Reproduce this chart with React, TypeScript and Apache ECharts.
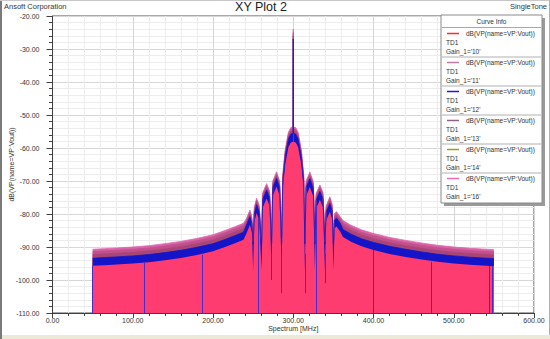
import React, { useEffect, useRef } from 'react';
import * as echarts from 'echarts';

// Spectrum frequency grid (MHz)
const freqMHz = [
  50, 65, 80, 100, 120, 140, 160, 180, 200, 215, 228, 238,
  241.5, 246, 248.5, 250,
  251.5, 254.3, 257.5, 260.5,
  262, 266.8, 270.5, 273,
  274.5, 279.2, 283, 285.5,
  287, 290, 294, 297, 299.7, 300, 300.3, 303, 306, 310, 313, 314.5,
  316, 320.7, 325, 327,
  328.5, 333.2, 337, 339.5,
  341, 345.6, 348.5, 350,
  351.5, 354, 358.5,
  362, 372, 385, 400, 420, 440, 460, 480, 500, 520, 535, 550,
];

const gain16Db = [
  -90.7, -90.5, -90.3, -90.0, -89.6, -89.0, -88.3, -87.4, -86.3, -85.0, -83.8, -82.8,
  -81.5, -78.8, -81.0, -88.0,
  -78.0, -75.2, -77.2, -88.0,
  -73.5, -70.8, -73.0, -88.0,
  -70.0, -67.2, -70.0, -88.0,
  -68.0, -60.5, -55.2, -53.8, -53.6, -24.0, -53.6, -53.8, -55.2, -60.5, -68.0, -88.0,
  -70.0, -67.3, -70.2, -88.0,
  -73.8, -71.2, -73.4, -88.0,
  -77.5, -74.8, -77.0, -88.0,
  -79.8, -79.3, -80.8,
  -82.0, -83.4, -84.8, -85.9, -87.1, -88.0, -88.8, -89.5, -90.0, -90.4, -90.6, -90.8,
];

const gain13Db = [
  -91.4, -91.2, -91.0, -90.7, -90.3, -89.7, -89.0, -88.1, -87.0, -85.7, -84.5, -83.5,
  -82.1, -79.4, -81.6, -88.3,
  -78.6, -75.8, -77.8, -88.3,
  -74.1, -71.4, -73.6, -88.3,
  -70.6, -67.8, -70.6, -88.3,
  -68.6, -61.1, -55.8, -54.4, -54.2, -25.0, -54.2, -54.4, -55.8, -61.1, -68.6, -88.3,
  -70.6, -67.9, -70.8, -88.3,
  -74.4, -71.8, -74.0, -88.3,
  -78.1, -75.4, -77.6, -88.3,
  -80.4, -79.9, -81.4,
  -82.7, -84.1, -85.5, -86.6, -87.8, -88.7, -89.5, -90.2, -90.7, -91.1, -91.3, -91.5,
];

const gain11Db = [
  -92.3, -92.1, -91.9, -91.6, -91.2, -90.6, -89.9, -89.0, -87.9, -86.6, -85.4, -84.4,
  -82.8, -80.1, -82.3, -88.6,
  -79.3, -76.5, -78.5, -88.6,
  -74.8, -72.1, -74.3, -88.6,
  -71.3, -68.5, -71.3, -88.6,
  -69.3, -61.8, -56.5, -55.1, -54.9, -26.0, -54.9, -55.1, -56.5, -61.8, -69.3, -88.6,
  -71.3, -68.6, -71.5, -88.6,
  -75.1, -72.5, -74.7, -88.6,
  -78.8, -76.1, -78.3, -88.6,
  -81.1, -80.6, -82.1,
  -83.6, -85.0, -86.4, -87.5, -88.7, -89.6, -90.4, -91.1, -91.6, -92.0, -92.2, -92.4,
];

const gain14Db = [
  -94.7, -94.5, -94.3, -94.0, -93.6, -93.0, -92.3, -91.4, -90.3, -89.0, -87.8, -86.8,
  -85.0, -82.3, -84.5, -93.0,
  -81.5, -78.7, -80.7, -93.0,
  -77.0, -74.3, -76.5, -93.0,
  -73.5, -70.7, -73.5, -93.0,
  -71.5, -64.0, -58.7, -57.3, -57.1, -28.0, -57.1, -57.3, -58.7, -64.0, -71.5, -93.0,
  -73.5, -70.8, -73.7, -93.0,
  -77.3, -74.7, -76.9, -93.0,
  -81.0, -78.3, -80.5, -93.0,
  -83.3, -82.8, -84.3,
  -86.0, -87.4, -88.8, -89.9, -91.1, -92.0, -92.8, -93.5, -94.0, -94.4, -94.6, -94.8,
];

const gain12Db = [
  -93.4, -93.2, -93.0, -92.7, -92.3, -91.7, -91.0, -90.1, -89.0, -87.7, -86.5, -85.5,
  -83.5, -80.8, -83.0, -89.0,
  -80.0, -77.2, -79.2, -89.0,
  -75.5, -72.8, -75.0, -89.0,
  -72.0, -69.2, -72.0, -89.0,
  -70.0, -62.5, -57.2, -55.8, -55.6, -27.0, -55.6, -55.8, -57.2, -62.5, -70.0, -89.0,
  -72.0, -69.3, -72.2, -89.0,
  -75.8, -73.2, -75.4, -89.0,
  -79.5, -76.8, -79.0, -89.0,
  -81.8, -81.3, -82.8,
  -84.7, -86.1, -87.5, -88.6, -89.8, -90.7, -91.5, -92.2, -92.7, -93.1, -93.3, -93.5,
];

const gain10Db = [
  -95.7, -95.5, -95.3, -95.0, -94.6, -94.0, -93.3, -92.4, -91.3, -90.0, -88.8, -87.8,
  -86.0, -83.3, -85.5, -97.0,
  -82.5, -79.7, -81.7, -97.0,
  -78.0, -75.3, -77.5, -97.0,
  -74.5, -71.7, -74.5, -97.0,
  -72.5, -65.0, -59.7, -58.3, -58.1, -29.0, -58.1, -58.3, -59.7, -65.0, -72.5, -97.0,
  -74.5, -71.8, -74.7, -97.0,
  -78.3, -75.7, -77.9, -97.0,
  -82.0, -79.3, -81.5, -97.0,
  -84.3, -83.8, -85.3,
  -87.0, -88.4, -89.8, -90.9, -92.1, -93.0, -93.8, -94.5, -95.0, -95.4, -95.6, -95.8,
];

// Deep notches (vertical lines) in the Gain_1='10' trace
const notchMHz = [50, 114, 186, 257, 273, 285.5, 314.5, 329, 339.5, 400, 472, 544.5, 548];
const notchTopDb = [-95.7, -94.7, -92.3, -81.2, -92.0, -92.0, -92.0, -77.5, -92.0, -90.9, -94.5, -95.7, -95.8];
const notchBottomDb = [-110, -110, -110, -110, -100, -104, -104, -110, -101, -110, -110, -110, -110];

// Legend info
const legendGains = ['10', '11', '12', '13', '14', '16'];
const legendColors = ['#ff2a2a', '#c878a0', '#1a1ae6', '#906088', '#a0a018', '#f06ab4'];
const traceLabel = 'dB(VP(name=VP:Vout))';

const FONT = '"Liberation Sans", Arial, sans-serif';

export default function App() {
  const ref = useRef<HTMLDivElement>(null);
  useEffect(() => {
    const chart = echarts.init(ref.current!, null, { renderer: 'svg' });
    const toPairs = (vals: number[]) => freqMHz.map((f, i) => [f, vals[i]]);
    const defs = [
      { name: "Gain_1='14'", vals: gain14Db, color: '#a0a018' },
      { name: "Gain_1='16'", vals: gain16Db, color: '#dc64aa' },
      { name: "Gain_1='13'", vals: gain13Db, color: '#c2508e' },
      { name: "Gain_1='11'", vals: gain11Db, color: '#a84676' },
      { name: "Gain_1='12'", vals: gain12Db, color: '#1414c8' },
      { name: "Gain_1='10'", vals: gain10Db, color: '#ff3c70' },
    ];
    const series: any[] = defs.map((d, idx) => {
      const isLast = idx === defs.length - 1;
      const s: any = {
        type: 'line',
        name: d.name,
        data: toPairs(d.vals),
        showSymbol: false,
        symbol: 'none',
        silent: true,
        lineStyle: { color: d.color, width: isLast || idx === 0 ? 0 : 0.8 },
        itemStyle: { color: d.color },
        areaStyle: { color: d.color, opacity: 1, origin: 'start' },
        emphasis: { disabled: true },
      };
      if (isLast) {
        s.markLine = {
          silent: true,
          symbol: ['none', 'none'],
          label: { show: false },
          lineStyle: { color: '#4a2ccc', width: 1, type: 'solid' },
          data: notchMHz.map((f, i) => [{ coord: [f, notchBottomDb[i]] }, { coord: [f, notchTopDb[i]] }]),
        };
      }
      return s;
    });

    const graphics: any[] = [];
    // outer frame
    graphics.push({ type: 'rect', z: 100, silent: true, shape: { x: 0, y: 335, width: 550, height: 4 }, style: { fill: '#ece9d8' } });
    graphics.push({ type: 'rect', z: 100, silent: true, shape: { x: 0, y: 0, width: 2, height: 339 }, style: { fill: '#7a7a7a' } });
    graphics.push({ type: 'line', z: 100, silent: true, shape: { x1: 0, y1: 0.5, x2: 550, y2: 0.5 }, style: { stroke: '#c8c8c8', lineWidth: 1 } });
    graphics.push({ type: 'line', z: 100, silent: true, shape: { x1: 549.5, y1: 0, x2: 549.5, y2: 335 }, style: { stroke: '#b0b0b0', lineWidth: 1 } });
    // header texts
    graphics.push({ type: 'text', z: 100, x: 4, y: 6, style: { text: 'Ansoft Corporation', font: `7.5px ${FONT}`, fill: '#333', textVerticalAlign: 'middle' } });
    graphics.push({ type: 'text', z: 100, x: 261, y: 7, style: { text: 'XY Plot 2', font: `12.5px ${FONT}`, fill: '#222', textAlign: 'center', textVerticalAlign: 'middle' } });
    graphics.push({ type: 'text', z: 100, x: 547, y: 6, style: { text: 'SingleTone', font: `7.5px ${FONT}`, fill: '#333', textAlign: 'right', textVerticalAlign: 'middle' } });
    // legend box
    const lx = 441, ly = 15, lw = 101, lh = 188;
    graphics.push({ type: 'rect', z: 100, silent: true, shape: { x: lx + 3, y: ly + 3, width: lw, height: lh }, style: { fill: '#9a9a9a' } });
    graphics.push({ type: 'rect', z: 101, silent: true, shape: { x: lx, y: ly, width: lw, height: lh }, style: { fill: '#ffffff', stroke: '#8a8a8a', lineWidth: 1 } });
    graphics.push({ type: 'text', z: 102, x: lx + lw / 2, y: 21.5, style: { text: 'Curve Info', font: `6.5px ${FONT}`, fill: '#333', textAlign: 'center', textVerticalAlign: 'middle' } });
    graphics.push({ type: 'line', z: 102, silent: true, shape: { x1: lx + 1, y1: 27.5, x2: lx + lw - 1, y2: 27.5 }, style: { stroke: '#a8a8a8', lineWidth: 1 } });
    legendGains.forEach((g, i) => {
      const yb = 33.5 + 29 * i;
      graphics.push({ type: 'line', z: 102, silent: true, shape: { x1: 447, y1: yb, x2: 459, y2: yb }, style: { stroke: legendColors[i], lineWidth: 1.5 } });
      graphics.push({ type: 'text', z: 102, x: 466, y: yb, style: { text: traceLabel, font: `6.5px ${FONT}`, fill: '#333', textVerticalAlign: 'middle' } });
      graphics.push({ type: 'text', z: 102, x: 446, y: yb + 9, style: { text: 'TD1', font: `6.5px ${FONT}`, fill: '#333', textVerticalAlign: 'middle' } });
      graphics.push({ type: 'text', z: 102, x: 446, y: yb + 17.5, style: { text: `Gain_1='${g}'`, font: `6.5px ${FONT}`, fill: '#333', textVerticalAlign: 'middle' } });
      if (i < legendGains.length - 1) {
        graphics.push({ type: 'line', z: 102, silent: true, shape: { x1: lx + 1, y1: yb + 23.5, x2: lx + lw - 1, y2: yb + 23.5 }, style: { stroke: '#b0b0b0', lineWidth: 1 } });
      }
    });

    chart.setOption({
      animation: false,
      backgroundColor: '#ffffff',
      textStyle: { fontFamily: FONT },
      grid: { left: 52.5, right: 16, top: 16, bottom: 26, outerBoundsMode: 'none', containLabel: false, show: true, borderColor: '#505050', borderWidth: 1, backgroundColor: 'transparent' },
      xAxis: {
        type: 'value', min: 0, max: 600, interval: 100,
        name: 'Spectrum [MHz]', nameLocation: 'middle', nameGap: 12, nameMoveOverlap: false,
        nameTextStyle: { fontSize: 7, color: '#333', fontFamily: FONT },
        axisLine: { show: true, lineStyle: { color: '#404040', width: 1 } },
        axisTick: { show: true, length: 5, lineStyle: { color: '#404040' } },
        minorTick: { show: true, splitNumber: 5, length: 3, lineStyle: { color: '#404040' } },
        axisLabel: { fontSize: 7, color: '#333', margin: 4, formatter: (v: number) => v.toFixed(2), fontFamily: FONT },
        splitLine: { show: true, lineStyle: { color: '#d6d6d6', width: 1 } },
        minorSplitLine: { show: true, lineStyle: { color: '#ececec', width: 1 } },
      },
      yAxis: {
        type: 'value', min: -110, max: -20, interval: 10,
        name: traceLabel, nameLocation: 'middle', nameGap: 38, nameRotate: 90, nameMoveOverlap: false,
        nameTextStyle: { fontSize: 7, color: '#333', fontFamily: FONT },
        axisLine: { show: true, lineStyle: { color: '#404040', width: 1 } },
        axisTick: { show: true, length: 6, lineStyle: { color: '#404040' } },
        minorTick: { show: true, splitNumber: 5, length: 3.5, lineStyle: { color: '#404040' } },
        axisLabel: { fontSize: 7, color: '#333', margin: 13, formatter: (v: number) => v.toFixed(2), fontFamily: FONT },
        splitLine: { show: true, lineStyle: { color: '#d6d6d6', width: 1 } },
        minorSplitLine: { show: true, lineStyle: { color: '#ececec', width: 1 } },
      },
      series,
      graphic: { elements: graphics },
    });
    return () => chart.dispose();
  }, []);
  return <div ref={ref} style={{ position: 'fixed', left: 0, top: 0, width: 550, height: 339 }} />;
}
